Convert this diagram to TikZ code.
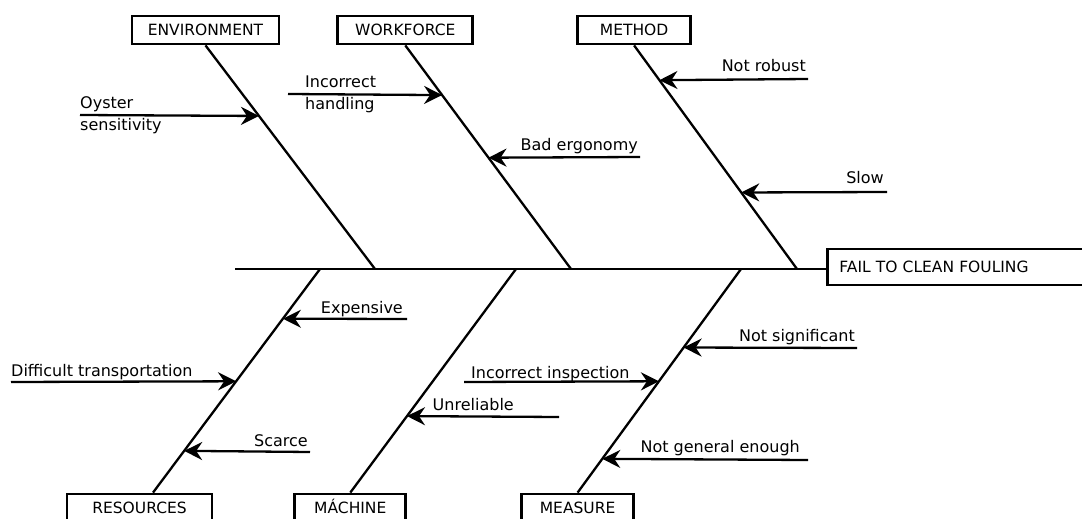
\documentclass[tikz,border=0pt]{standalone}
\usepackage{fontspec}
\setmainfont{DejaVu Sans}
\usetikzlibrary{arrows.meta, positioning, calc}

\begin{document}
\begin{tikzpicture}[
    x=1pt, y=-1pt,
    every node/.style={font=\fontsize{16}{22}\selectfont, inner sep=0pt},
    category/.style={
        rectangle,
        draw,
        line width=2.8pt,
        minimum height=28pt,
        text height=11.5pt,
        text depth=0pt,
        font=\fontsize{15.5}{18}\selectfont
    },
    effect/.style={
        category,
        minimum height=36pt,
        text width=250pt,
        align=left,
        inner xsep=12pt
    },
    bone/.style={line width=2.3pt},
    cause/.style={
        -{Stealth[length=18pt, width=18pt, inset=6pt]},
        line width=2.3pt
    },
    why/.style={align=left}
]

\useasboundingbox (0,0) rectangle (1082,519);
\clip (0,0) rectangle (1082,519);

\node[effect, anchor=west] (fail) at (826,267) {FAIL TO CLEAN FOULING};
\coordinate (spine) at (235,269);
\draw[bone] (spine) -- (spine -| fail.west);

\node[category, minimum width=147pt] (env) at (205.5,30) {ENVIRONMENT};
\node[category, minimum width=135pt, right=56pt of env] (work) {WORKFORCE};
\node[category, minimum width=113pt, right=102pt of work] (meth) {METHOD};

\node[category, minimum width=145pt] (res) at (139.5,508) {RESOURCES};
\node[category, minimum width=111pt, right=80pt of res] (mach) {MÁCHINE};
\node[category, minimum width=112pt, right=113pt of mach] (meas) {MEASURE};

\coordinate (env-joint) at (375,269);
\coordinate (work-joint) at (571,269);
\coordinate (meth-joint) at (797,269);
\coordinate (res-joint) at (320,269);
\coordinate (mach-joint) at (516,269);
\coordinate (meas-joint) at (741,269);

\draw[bone] (env.south) -- (env-joint);
\draw[bone] (work.south) -- (work-joint);
\draw[bone] (meth.south) -- (meth-joint);
\draw[bone] ([xshift=13.5pt]res.north) -- (res-joint);
\draw[bone] (mach.north) -- (mach-joint);
\draw[bone] (meas.north) -- (meas-joint);

\coordinate (oyster-tip) at ($(env.south)!0.3156!(env-joint)$);
\coordinate (oyster-tail) at (80,115);
\draw[cause] (oyster-tail) -- (oyster-tip);
\node[why, right=0pt of oyster-tail] (oyster) {Oyster\\sensitivity};

\coordinate (handling-tip) at ($(work.south)!0.2222!(work-joint)$);
\coordinate (handling-tail) at (288,94);
\draw[cause] (handling-tail) -- (handling-tip);
\node[why, right=17pt of handling-tail] (handling) {Incorrect\\handling};

\coordinate (ergonomy-tip) at ($(work.south)!0.5022!(work-joint)$);
\coordinate (ergonomy-tail) at (640,157);
\draw[cause] (ergonomy-tail) -- (ergonomy-tip);
\node[above left=7pt and 2pt of ergonomy-tail, anchor=base east] (ergonomy) {Bad ergonomy};

\coordinate (robust-tip) at ($(meth.south)!0.1556!(meth-joint)$);
\coordinate (robust-tail) at (808,79);
\draw[cause] (robust-tail) -- (robust-tip);
\node[above left=8pt and 2pt of robust-tail, anchor=base east] (robust) {Not robust};

\coordinate (slow-tip) at ($(meth.south)!0.6578!(meth-joint)$);
\coordinate (slow-tail) at (887,192);
\draw[cause] (slow-tail) -- (slow-tip);
\node[above left=9pt and 3pt of slow-tail, anchor=base east] (slow) {Slow};

\coordinate (expensive-tip) at ($([xshift=13.5pt]res.north)!0.7778!(res-joint)$);
\coordinate (expensive-tail) at (407,319);
\draw[cause] (expensive-tail) -- (expensive-tip);
\node[above left=6pt and 4pt of expensive-tail, anchor=base east] (expensive) {Expensive};

\coordinate (transport-tip) at ($([xshift=13.5pt]res.north)!0.4978!(res-joint)$);
\coordinate (transport-tail) at (11,382);
\draw[cause] (transport-tail) -- (transport-tip);
\node[above right=6pt and 0pt of transport-tail, anchor=base west] (transport) {Difficult transportation};

\coordinate (scarce-tip) at ($([xshift=13.5pt]res.north)!0.1867!(res-joint)$);
\coordinate (scarce-tail) at (310,452);
\draw[cause] (scarce-tail) -- (scarce-tip);
\node[above left=6pt and 2pt of scarce-tail, anchor=base east] (scarce) {Scarce};

\coordinate (unreliable-tip) at ($(mach.north)!0.3422!(mach-joint)$);
\coordinate (unreliable-tail) at (559,417);
\draw[cause] (unreliable-tail) -- (unreliable-tip);
\node[above left=7pt and 45pt of unreliable-tail, anchor=base east] (unreliable) {Unreliable};

\coordinate (inspection-tip) at ($(meas.north)!0.4978!(meas-joint)$);
\coordinate (inspection-tail) at (464,382);
\draw[cause] (inspection-tail) -- (inspection-tip);
\node[above right=4pt and 7pt of inspection-tail, anchor=base west] (inspection) {Incorrect inspection};

\coordinate (significant-tip) at ($(meas.north)!0.6489!(meas-joint)$);
\coordinate (significant-tail) at (857,348);
\draw[cause] (significant-tail) -- (significant-tip);
\node[above left=7pt and 2pt of significant-tail, anchor=base east] (significant) {Not significant};

\coordinate (general-tip) at ($(meas.north)!0.1511!(meas-joint)$);
\coordinate (general-tail) at (808,460);
\draw[cause] (general-tail) -- (general-tip);
\node[above left=8pt and 8pt of general-tail, anchor=base east] (general) {Not general enough};

\end{tikzpicture}
\end{document}
